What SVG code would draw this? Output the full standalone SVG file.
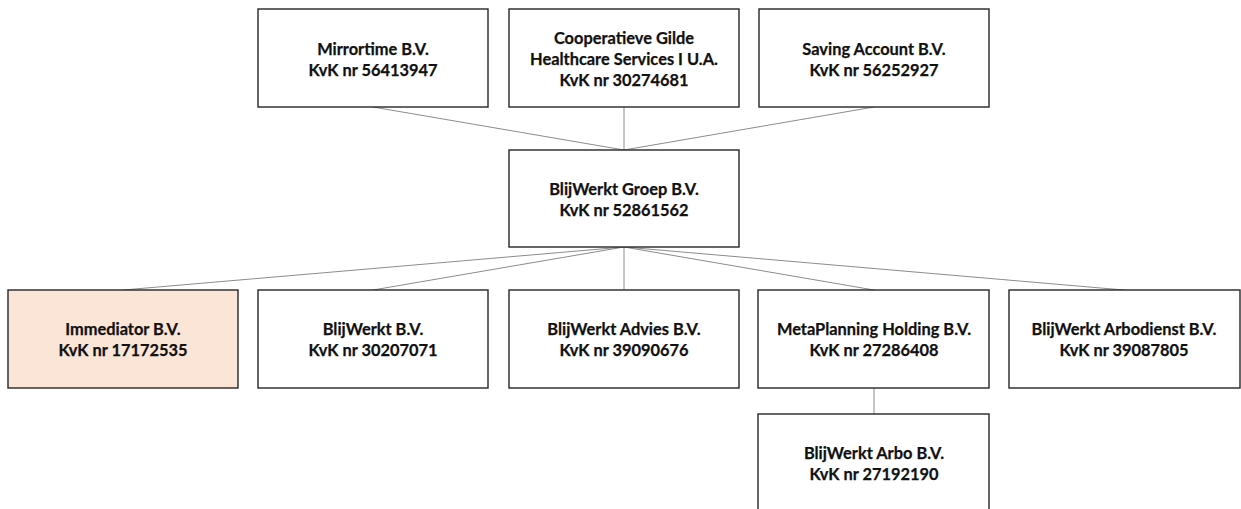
<svg xmlns="http://www.w3.org/2000/svg" width="1241" height="509" viewBox="0 0 1241 509">
<style>
.box{fill:#ffffff;stroke:#262626;stroke-width:1.4}
.hl{fill:#FBE5D6}
.t{font-family:Lato,"Open Sans","Liberation Sans",sans-serif;font-weight:bold;font-size:16.4px;fill:#111111;stroke:#111111;stroke-width:0.25;text-anchor:middle}
.c{stroke:#8c8c8c;stroke-width:1;fill:none}
</style>
<rect width="1241" height="509" fill="#ffffff"/>
<g id="connectors">
<line class="c" x1="373" y1="107" x2="624" y2="150"/>
<line class="c" x1="624" y1="107" x2="624" y2="150"/>
<line class="c" x1="874" y1="107" x2="624" y2="150"/>
<line class="c" x1="624" y1="247" x2="123" y2="290"/>
<line class="c" x1="624" y1="247" x2="373" y2="290"/>
<line class="c" x1="624" y1="247" x2="624" y2="290"/>
<line class="c" x1="624" y1="247" x2="874" y2="290"/>
<line class="c" x1="624" y1="247" x2="1124" y2="290"/>
<line class="c" x1="874" y1="388" x2="874" y2="414"/>
</g>
<g id="mirrortime">
<rect class="box" x="258" y="9" width="230" height="98"/>
<text class="t" x="373" y="55">Mirrortime B.V.</text>
<text class="t" x="373" y="76">KvK nr 56413947</text>
</g>
<g id="gilde">
<rect class="box" x="509" y="9" width="230" height="98"/>
<text class="t" x="624" y="44">Cooperatieve Gilde</text>
<text class="t" x="624" y="65">Healthcare Services I U.A.</text>
<text class="t" x="624" y="86">KvK nr 30274681</text>
</g>
<g id="saving">
<rect class="box" x="759" y="9" width="230" height="98"/>
<text class="t" x="874" y="55">Saving Account B.V.</text>
<text class="t" x="874" y="76">KvK nr 56252927</text>
</g>
<g id="groep">
<rect class="box" x="509" y="150" width="230" height="97"/>
<text class="t" x="624" y="195">BlijWerkt Groep B.V.</text>
<text class="t" x="624" y="216">KvK nr 52861562</text>
</g>
<g id="immediator">
<rect class="box hl" x="8" y="290" width="230" height="98"/>
<text class="t" x="123" y="335">Immediator B.V.</text>
<text class="t" x="123" y="356">KvK nr 17172535</text>
</g>
<g id="blijwerkt">
<rect class="box" x="258" y="290" width="230" height="98"/>
<text class="t" x="373" y="335">BlijWerkt B.V.</text>
<text class="t" x="373" y="356">KvK nr 30207071</text>
</g>
<g id="advies">
<rect class="box" x="509" y="290" width="230" height="98"/>
<text class="t" x="624" y="335">BlijWerkt Advies B.V.</text>
<text class="t" x="624" y="356">KvK nr 39090676</text>
</g>
<g id="metaplanning">
<rect class="box" x="758" y="290" width="231" height="98"/>
<text class="t" x="874" y="335">MetaPlanning Holding B.V.</text>
<text class="t" x="874" y="356">KvK nr 27286408</text>
</g>
<g id="arbodienst">
<rect class="box" x="1009" y="290" width="231" height="98"/>
<text class="t" x="1124" y="335">BlijWerkt Arbodienst B.V.</text>
<text class="t" x="1124" y="356">KvK nr 39087805</text>
</g>
<g id="arbo">
<rect class="box" x="758" y="414" width="231" height="98"/>
<text class="t" x="874" y="459">BlijWerkt Arbo B.V.</text>
<text class="t" x="874" y="480">KvK nr 27192190</text>
</g>
</svg>
